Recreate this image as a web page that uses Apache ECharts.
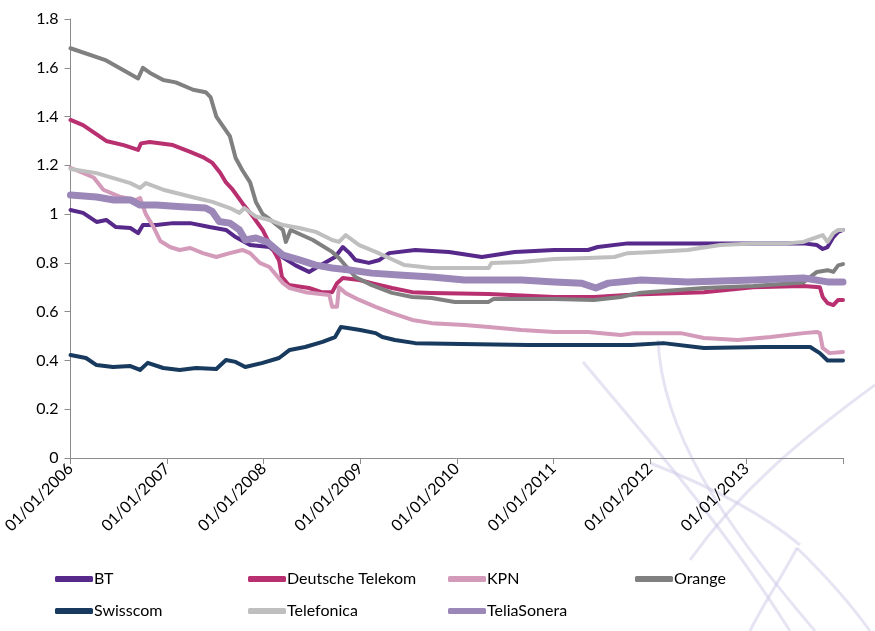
<!DOCTYPE html>
<html><head><meta charset="utf-8">
<script src="https://cdn.jsdelivr.net/npm/echarts@6/dist/echarts.min.js"></script>
<style>html,body{margin:0;padding:0;background:#fff}#c{width:875px;height:631px}</style>
</head><body><div id="c"></div>
<script>
// x values are decimal years (2006.0 = 01/01/2006)
const yearTicks = [2006, 2007, 2008, 2009, 2010, 2011, 2012, 2013];
const seriesNames = ['BT', 'Deutsche Telekom', 'KPN', 'Orange', 'Swisscom', 'Telefonica', 'TeliaSonera'];

const btData = [[0,1.017],[0.13,1.005],[0.27,0.968],[0.37,0.976],[0.47,0.947],[0.62,0.943],[0.70,0.922],[0.75,0.955],[0.89,0.955],[1.06,0.963],[1.24,0.963],[1.44,0.947],[1.61,0.935],[1.71,0.906],[1.86,0.873],[2.06,0.865],[2.16,0.832],[2.33,0.79],[2.47,0.763],[2.54,0.779],[2.74,0.824],[2.82,0.865],[2.89,0.84],[2.95,0.812],[3.09,0.80],[3.20,0.812],[3.30,0.84],[3.57,0.853],[3.92,0.845],[4.26,0.824],[4.60,0.845],[5.01,0.853],[5.36,0.853],[5.46,0.865],[5.77,0.88],[6.56,0.88],[7.07,0.88],[7.59,0.88],[7.73,0.873],[7.79,0.857],[7.84,0.865],[7.90,0.906],[7.95,0.927],[8.0,0.935]];
const dtData = [[0,1.386],[0.13,1.365],[0.37,1.30],[0.55,1.283],[0.70,1.263],[0.73,1.29],[0.82,1.296],[1.06,1.283],[1.24,1.255],[1.37,1.234],[1.47,1.21],[1.55,1.17],[1.61,1.13],[1.68,1.10],[1.78,1.045],[1.89,0.99],[1.99,0.935],[2.06,0.88],[2.16,0.81],[2.19,0.742],[2.26,0.709],[2.47,0.697],[2.60,0.68],[2.71,0.68],[2.76,0.717],[2.82,0.738],[2.99,0.73],[3.12,0.717],[3.33,0.697],[3.54,0.68],[3.74,0.677],[4.33,0.672],[5.01,0.66],[5.42,0.66],[5.85,0.67],[6.56,0.68],[7.07,0.70],[7.59,0.705],[7.76,0.70],[7.79,0.66],[7.84,0.635],[7.90,0.627],[7.95,0.648],[8.0,0.648]];
const kpnData = [[0,1.19],[0.24,1.15],[0.34,1.10],[0.52,1.07],[0.68,1.058],[0.72,1.066],[0.78,1.00],[0.86,0.947],[0.93,0.89],[1.03,0.865],[1.13,0.853],[1.24,0.861],[1.37,0.84],[1.51,0.824],[1.65,0.84],[1.78,0.853],[1.86,0.84],[1.96,0.80],[2.06,0.783],[2.20,0.717],[2.27,0.697],[2.43,0.68],[2.68,0.668],[2.71,0.62],[2.76,0.62],[2.78,0.70],[2.85,0.676],[2.99,0.648],[3.16,0.62],[3.33,0.594],[3.54,0.566],[3.74,0.553],[4.08,0.545],[4.33,0.537],[4.67,0.525],[5.01,0.517],[5.36,0.517],[5.70,0.504],[5.84,0.512],[6.04,0.512],[6.32,0.512],[6.56,0.492],[6.91,0.484],[7.25,0.496],[7.59,0.512],[7.73,0.517],[7.76,0.512],[7.79,0.451],[7.86,0.43],[8.0,0.435]];
const orangeData = [[0,1.68],[0.37,1.63],[0.70,1.556],[0.75,1.60],[0.82,1.58],[0.96,1.55],[1.09,1.54],[1.27,1.51],[1.40,1.50],[1.45,1.48],[1.51,1.40],[1.58,1.36],[1.65,1.32],[1.71,1.23],[1.78,1.18],[1.86,1.13],[1.92,1.05],[1.99,1.00],[2.06,0.98],[2.20,0.935],[2.23,0.886],[2.28,0.935],[2.51,0.894],[2.71,0.845],[2.78,0.82],[2.95,0.742],[3.12,0.709],[3.33,0.677],[3.54,0.66],[3.74,0.656],[3.98,0.64],[4.33,0.64],[4.38,0.652],[5.01,0.652],[5.42,0.648],[5.70,0.66],[5.91,0.678],[6.56,0.697],[7.07,0.705],[7.59,0.72],[7.73,0.763],[7.84,0.77],[7.90,0.763],[7.95,0.79],[8.0,0.795]];
const swisscomData = [[0,0.422],[0.16,0.41],[0.27,0.381],[0.44,0.373],[0.62,0.377],[0.72,0.361],[0.80,0.39],[0.96,0.369],[1.13,0.361],[1.30,0.369],[1.51,0.365],[1.61,0.402],[1.71,0.394],[1.81,0.373],[1.99,0.39],[2.16,0.41],[2.27,0.443],[2.43,0.455],[2.61,0.476],[2.74,0.496],[2.80,0.537],[2.87,0.533],[3.0,0.525],[3.16,0.512],[3.23,0.496],[3.36,0.484],[3.57,0.471],[4.05,0.467],[4.74,0.463],[5.81,0.463],[6.14,0.471],[6.56,0.451],[7.18,0.455],[7.66,0.455],[7.76,0.43],[7.84,0.40],[8.0,0.40]];
const telefonicaData = [[0,1.185],[0.27,1.168],[0.62,1.127],[0.72,1.107],[0.78,1.127],[0.96,1.10],[1.3,1.066],[1.47,1.05],[1.65,1.025],[1.75,1.005],[1.80,1.025],[1.92,0.99],[2.06,0.976],[2.20,0.955],[2.37,0.943],[2.54,0.927],[2.71,0.894],[2.78,0.886],[2.85,0.914],[2.99,0.873],[3.16,0.845],[3.30,0.82],[3.46,0.791],[3.74,0.779],[4.08,0.779],[4.33,0.779],[4.36,0.80],[4.67,0.804],[5.01,0.816],[5.36,0.82],[5.63,0.824],[5.77,0.84],[6.04,0.845],[6.39,0.853],[6.73,0.873],[7.07,0.88],[7.42,0.88],[7.59,0.886],[7.73,0.906],[7.79,0.914],[7.84,0.886],[7.90,0.922],[7.95,0.935],[8.0,0.935]];
const teliaData = [[0,1.078],[0.27,1.07],[0.45,1.058],[0.62,1.058],[0.72,1.037],[0.89,1.037],[1.15,1.03],[1.4,1.025],[1.47,1.01],[1.54,0.97],[1.65,0.963],[1.75,0.935],[1.81,0.894],[1.92,0.902],[2.04,0.885],[2.20,0.832],[2.37,0.812],[2.54,0.791],[2.71,0.779],[2.89,0.771],[3.12,0.758],[3.40,0.75],[3.74,0.742],[4.08,0.73],[4.43,0.73],[4.67,0.73],[5.01,0.722],[5.29,0.717],[5.44,0.697],[5.57,0.717],[5.91,0.73],[6.39,0.722],[7.07,0.73],[7.59,0.738],[7.84,0.722],[8.0,0.722]];

const colors = ['#56298a', '#b8306f', '#d49ab9', '#808080', '#173a5e', '#bfbfbf', '#9b87b8'];
const widths = [4, 4, 4, 4, 4, 4, 7];
const allData = [btData, dtData, kpnData, orangeData, swisscomData, telefonicaData, teliaData];
const FONT = 'Lato';

const chart = echarts.init(document.getElementById('c'), null, {renderer: 'canvas'});

const legendPos = [[50,566],[243,566],[443,566],[630,566],[50,598],[243,598],[443,598]];
const legends = seriesNames.map((n, i) => ({
  data: [n], left: legendPos[i][0], top: legendPos[i][1], itemWidth: 38, itemHeight: 6, itemGap: 0,
  icon: 'roundRect', textStyle: {fontFamily: FONT, fontSize: 16, color: '#000', padding: [0,0,0,-4]}, selectedMode: false
}));

const wm = 'rgba(200,196,228,0.45)';
const curves = [
  {x1:583,y1:362,cpx1:640,cpy1:430,cpx2:720,cpy2:520,x2:790,y2:631},
  {x1:658,y1:340,cpx1:662,cpy1:430,cpx2:720,cpy2:520,x2:815,y2:631},
  {x1:875,y1:385,cpx1:800,cpy1:440,cpx2:740,cpy2:490,x2:690,y2:560},
  {x1:650,y1:463,cpx1:720,cpy1:490,cpx2:770,cpy2:520,x2:800,y2:545},
  {x1:797,y1:548,cpx1:780,cpy1:580,cpx2:760,cpy2:610,x2:750,y2:631},
  {x1:797,y1:548,cpx1:830,cpy1:580,cpx2:855,cpy2:610,x2:870,y2:631}
];
const graphics = curves.map(c => ({
  type: 'bezierCurve', z: -10, silent: true,
  shape: c, style: {stroke: wm, lineWidth: 3, fill: null}
}));

chart.setOption({
  animation: false,
  backgroundColor: '#fff',
  graphic: graphics,
  legend: legends,
  grid: {left: 67, top: 19, right: 32, bottom: 173, containLabel: false},
  xAxis: {
    type: 'value', min: 2006, max: 2014, interval: 1,
    axisLine: {lineStyle: {color: '#8c8c8c', width: 1}},
    axisTick: {show: true, length: 6, lineStyle: {color: '#8c8c8c'}},
    splitLine: {show: false},
    axisLabel: {
      rotate: 45, margin: 8, fontFamily: FONT, fontSize: 16, color: '#000',
      formatter: v => (yearTicks.indexOf(v) >= 0 ? '01/01/' + v : '')
    }
  },
  yAxis: {
    type: 'value', min: 0, max: 1.8, interval: 0.2,
    axisLine: {show: true, lineStyle: {color: '#8c8c8c', width: 1}},
    axisTick: {show: true, length: 6, lineStyle: {color: '#8c8c8c'}},
    splitLine: {show: false},
    axisLabel: {fontFamily: FONT, fontSize: 16, color: '#000', margin: 12,
      formatter: v => String(Math.round(v * 10) / 10)}
  },
  series: seriesNames.map((n, i) => ({
    name: n, type: 'line', showSymbol: false, symbol: 'none',
    data: allData[i].map(p => [2006 + p[0], p[1]]),
    lineStyle: {color: colors[i], width: widths[i], cap: 'round', join: 'round'},
    itemStyle: {color: colors[i]}
  }))
});
</script></body></html>
